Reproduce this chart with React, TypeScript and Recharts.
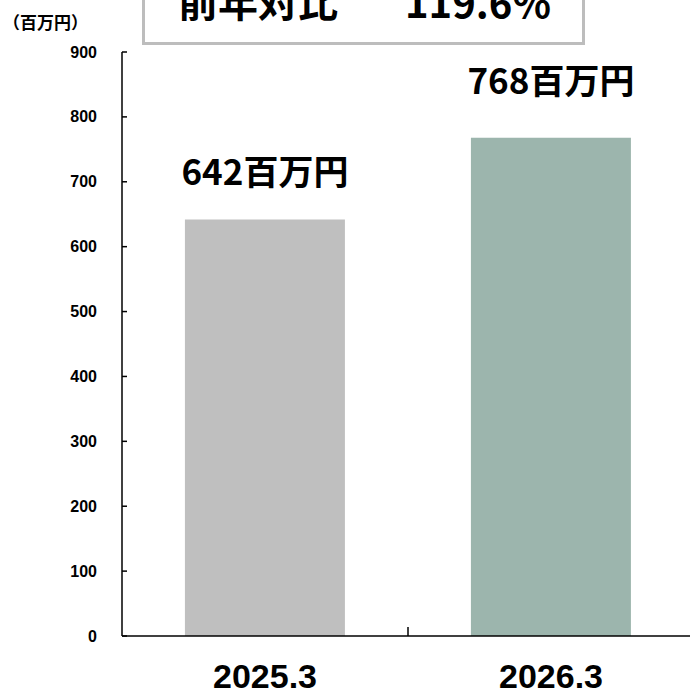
import React from "react";
import { BarChart, Bar, XAxis, YAxis, Cell, LabelList } from "recharts";

const categories = ["2025.3", "2026.3"];
const values = [642, 768];
const barColors = ["#bfbfbf", "#9cb5ad"];
const yTicks = [0, 100, 200, 300, 400, 500, 600, 700, 800, 900];
const unitLabel = "（百万円）";
const valueUnit = "百万円";
const ratioTitle = "前年対比";
const ratioValue = "119.6%";

const data = categories.map((c, i) => ({ name: c, value: values[i] }));

const CJK = '"Noto Sans CJK JP", "Noto Sans", sans-serif';
const LAT = '"Liberation Sans", Arial, sans-serif';
const Y_TICK_MARGIN = 25;
const labelGaps = [34, 44];

const YTick = (props: any) => {
  const { x, y, payload } = props;
  const ax = x + Y_TICK_MARGIN;
  return (
    <g>
      <line x1={ax} x2={ax + 5} y1={y} y2={y} stroke="#000" strokeWidth={1.5} />
      <text x={x} y={y} dy={5.5} textAnchor="end" fontFamily={LAT} fontWeight={700} fontSize={16} fill="#000">
        {payload.value}
      </text>
    </g>
  );
};

const XTick = (props: any) => {
  const { x, y, payload, index } = props;
  const off = payload.offset || 0;
  return (
    <g>
      {index > 0 && (
        <line x1={x - off} x2={x - off} y1={y - 9} y2={y} stroke="#000" strokeWidth={1.5} />
      )}
      <text x={x} y={y + 52} textAnchor="middle" fontFamily={LAT} fontWeight={700} fontSize={34} fill="#000">
        {payload.value}
      </text>
    </g>
  );
};

const ValueLabel = (props: any) => {
  const { x, y, width, value, index } = props;
  return (
    <text
      x={x + width / 2}
      y={y - labelGaps[index ?? 0]}
      textAnchor="middle"
      fontFamily={CJK}
      fontWeight={700}
      fontSize={35}
      fill="#000"
    >
      {`${value}${valueUnit}`}
    </text>
  );
};

export default function App() {
  return (
    <div style={{ position: "absolute", left: 0, top: 0, width: 690, height: 694, background: "#fff" }}>
      <BarChart
        width={690}
        height={694}
        data={data}
        margin={{ top: 52, right: -4, bottom: 0, left: 0 }}
        barCategoryGap="22%"
      >
        <XAxis
          dataKey="name"
          height={58}
          axisLine={{ stroke: "#000", strokeWidth: 1.5 }}
          tickLine={false}
          tickSize={0}
          tickMargin={0}
          tick={<XTick />}
          interval={0}
        />
        <YAxis
          width={122}
          domain={[0, 900]}
          ticks={yTicks}
          interval={0}
          axisLine={{ stroke: "#000", strokeWidth: 1.5 }}
          tickLine={false}
          tickSize={0}
          tickMargin={Y_TICK_MARGIN}
          tick={<YTick />}
        />
        <Bar dataKey="value" isAnimationActive={false}>
          {data.map((d, i) => (
            <Cell key={d.name} fill={barColors[i]} />
          ))}
          <LabelList dataKey="value" content={<ValueLabel />} />
        </Bar>
      </BarChart>
      <svg width={690} height={60} style={{ position: "absolute", left: 0, top: 0 }}>
        <text x={3} y={29} fontFamily={CJK} fontWeight={700} fontSize={17} fill="#000">
          {unitLabel}
        </text>
        <rect x={143.5} y={-10} width={440} height={53.5} fill="#fff" stroke="#bdbdbd" strokeWidth={3} />
        <text x={178} y={17} fontFamily={CJK} fontWeight={700} fontSize={40} fill="#000">
          {ratioTitle}
        </text>
        <text x={405} y={18} fontFamily={CJK} fontWeight={700} fontSize={40} fill="#000">
          {ratioValue}
        </text>
      </svg>
    </div>
  );
}
